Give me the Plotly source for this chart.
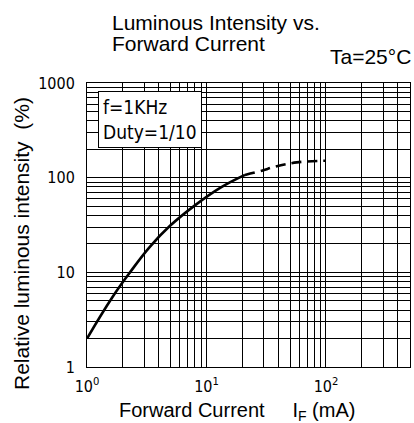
import plotly.graph_objects as go

# Relative luminous intensity (%) vs forward current (mA)
solid_current = [1.0, 1.62, 2.33, 3.37, 4.95, 8.0, 13.0, 21.0]
solid_intensity = [2.0, 5.4, 10.3, 18.7, 31.0, 51.0, 78.0, 107.0]
dashed_current = [21.0, 29.0, 37.4, 57.0, 100.0]
dashed_intensity = [107.0, 118.5, 130.6, 145.0, 151.0]

x_major = [1, 10, 100]
x_major_text = ["10<sup>0</sup>", "10<sup>1</sup>", "10<sup>2</sup>"]
x_minor = [2, 3, 4, 5, 6, 7, 8, 9, 20, 30, 40, 50, 60, 70, 80, 90, 200, 300, 400, 500]
y_major = [1, 10, 100, 1000]
y_major_text = ["1", "10", "100", "1000"]
y_minor = [2, 3, 4, 5, 6, 7, 8, 9, 20, 30, 40, 50, 60, 70, 80, 90, 200, 300, 400, 500, 600, 700, 800, 900]

NARROW = "Liberation Sans Narrow, DejaVu Sans Condensed, Arial Narrow, sans-serif"
SANS = "Liberation Sans, Arial, sans-serif"

fig = go.Figure()
fig.add_trace(go.Scatter(x=solid_current, y=solid_intensity, mode="lines",
                         line=dict(color="black", width=2.6, shape="spline", smoothing=1.2),
                         showlegend=False, hoverinfo="skip"))
fig.add_trace(go.Scatter(x=dashed_current, y=dashed_intensity, mode="lines",
                         line=dict(color="black", width=2.6, shape="spline", dash="10px,6px"),
                         showlegend=False, hoverinfo="skip"))

axis_common = dict(type="log", showline=True, mirror=True, linecolor="black", linewidth=1,
                   showgrid=True, gridcolor="black", gridwidth=1, zeroline=False,
                   ticks="", tickfont=dict(family=NARROW, size=16, color="black"))

fig.update_xaxes(range=[0, 2.703], tickmode="array", tickvals=x_major, ticktext=x_major_text,
                 minor=dict(tickmode="array", tickvals=x_minor, showgrid=True,
                            gridcolor="black", gridwidth=1, ticks=""),
                 ticklabelstandoff=5, **axis_common)
fig.update_yaxes(range=[0, 3], tickmode="array", tickvals=y_major, ticktext=y_major_text,
                 minor=dict(tickmode="array", tickvals=y_minor, showgrid=True,
                            gridcolor="black", gridwidth=1, ticks=""),
                 ticklabelstandoff=8, **axis_common)

W, H = 414, 423
L, R, T, B = 87, 4, 83, 56
pw, ph = W - L - R, H - T - B

def px(xp):
    return (xp - L) / pw

def py(yp):
    return (H - B - yp) / ph

annotations = [
    dict(text="Luminous Intensity vs.", x=px(110), y=py(36), xanchor="left", yanchor="bottom",
         font=dict(family=SANS, size=21, color="black")),
    dict(text="Forward Current", x=px(110), y=py(57), xanchor="left", yanchor="bottom",
         font=dict(family=SANS, size=21, color="black")),
    dict(text="Ta=25°C", x=px(413), y=py(70), xanchor="right", yanchor="bottom",
         font=dict(family=SANS, size=21, color="black")),
    dict(text="Forward Current\u00a0\u00a0\u00a0\u00a0\u00a0I<sub>F</sub> (mA)", x=px(117), y=py(411),
         xanchor="left", yanchor="middle", font=dict(family=SANS, size=20, color="black")),
    dict(text="Relative luminous intensity\u00a0\u00a0(%)", x=px(21), y=py(244), textangle=-90,
         xanchor="center", yanchor="middle", font=dict(family=SANS, size=21, color="black")),
    dict(text="f=1KHz<br>Duty=1/10", x=px(98), y=py(91), xanchor="left", yanchor="top",
         align="left", bgcolor="white", bordercolor="black", borderwidth=1, borderpad=4,
         font=dict(family=NARROW, size=19, color="black")),
]
for a in annotations:
    a.update(xref="paper", yref="paper", showarrow=False)

fig.update_layout(width=W, height=H, margin=dict(l=L, r=R, t=T, b=B),
                  paper_bgcolor="white", plot_bgcolor="white", annotations=annotations)

fig.write_html("out.html", config={"displayModeBar": False},
               post_script="document.body.style.margin='0px';")
